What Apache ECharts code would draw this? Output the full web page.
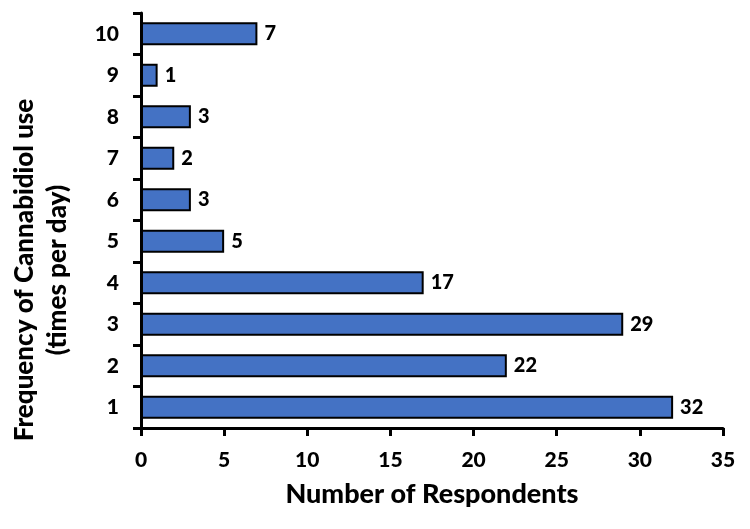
<!DOCTYPE html>
<html>
<head>
<meta charset="utf-8">
<script src="https://cdn.jsdelivr.net/npm/echarts@6/dist/echarts.min.js"></script>
<style>
  html, body { margin: 0; padding: 0; background: #fff; }
  #main { width: 750px; height: 529px; }
</style>
</head>
<body>
<div id="main"></div>
<script>
// 数据
var categories = ['1', '2', '3', '4', '5', '6', '7', '8', '9', '10'];
var respondents = [32, 22, 29, 17, 5, 3, 2, 3, 1, 7];
var xTicks = [0, 5, 10, 15, 20, 25, 30, 35];

var font = 'Lato';
var weight = 900;
var myChart = echarts.init(document.getElementById('main'));

var option = {
	backgroundColor: '#fff',
	animation: false,
	grid: { left: 141, right: 27, top: 13, bottom: 101 },
	xAxis: {
		type: 'value',
		min: xTicks[0],
		max: xTicks[xTicks.length - 1],
		interval: 5,
		name: 'Number of Respondents',
		nameLocation: 'middle',
		nameGap: 53,
		nameTextStyle: { fontFamily: font, fontWeight: weight, fontSize: 27, color: '#000' },
		axisLine: { show: true, lineStyle: { color: '#000', width: 3 } },
		axisTick: { show: true, length: 8, lineStyle: { color: '#000', width: 3 } },
		axisLabel: { margin: 22, fontFamily: font, fontWeight: weight, fontSize: 21, color: '#000' },
		splitLine: { show: false }
	},
	yAxis: {
		type: 'category',
		data: categories,
		axisLine: { show: true, lineStyle: { color: '#000', width: 3 } },
		axisTick: { show: true, length: 8, alignWithLabel: false, lineStyle: { color: '#000', width: 3 } },
		axisLabel: { margin: 22, fontFamily: font, fontWeight: weight, fontSize: 21, color: '#000' }
	},
	//纵轴标题（位置偏下，所以用graphic画）
	graphic: [{
		type: 'text',
		x: 41,
		y: 270,
		rotation: Math.PI / 2,
		style: {
			text: 'Frequency of Cannabidiol use\n(times per day)',
			fontFamily: font,
			fontWeight: weight,
			fontSize: 26,
			lineHeight: 33,
			fill: '#000',
			align: 'center',
			verticalAlign: 'middle'
		}
	}],
	series: [{
		type: 'bar',
		data: respondents,
		barWidth: 23,
		itemStyle: { color: '#4472C4', borderColor: '#000', borderWidth: 2 },
		label: {
			show: true,
			position: 'right',
			distance: 7,
			fontFamily: font,
			fontWeight: weight,
			fontSize: 20,
			color: '#000'
		}
	}]
};
myChart.setOption(option);
</script>
</body>
</html>
